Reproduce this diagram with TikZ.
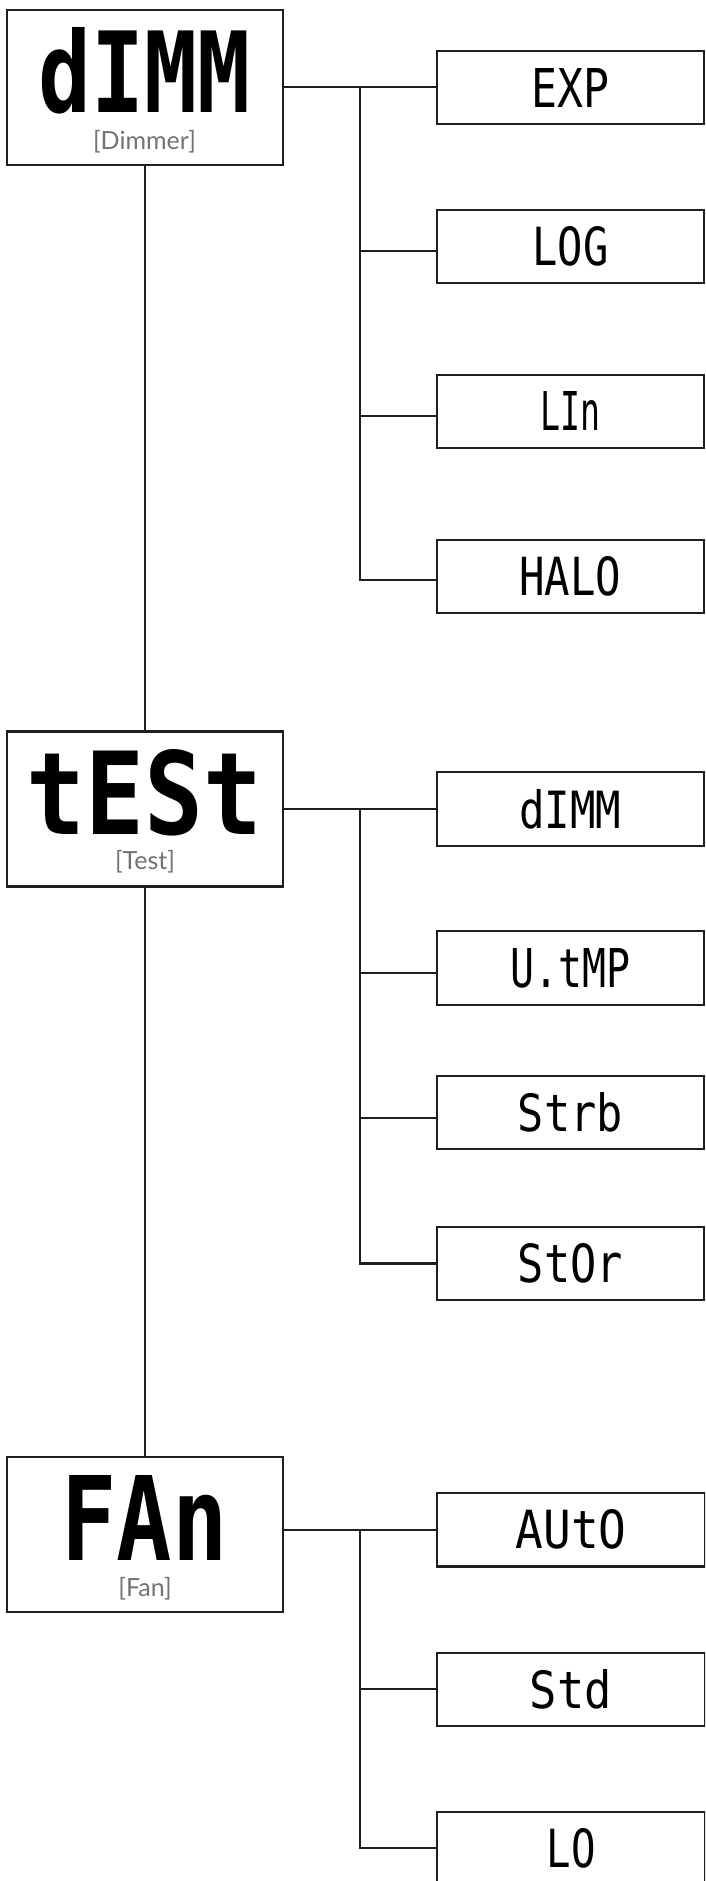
\documentclass[tikz,border=0pt]{standalone}
\usepackage{fontspec}
\usepackage{graphicx}
\newfontfamily\lcdfont{DejaVu Sans Mono}
\newfontfamily\lblfont{Lato}
\newcommand\lcdtxt[3]{\resizebox{#1pt}{#2pt}{\lcdfont #3}}
\newcommand\lcdbold[3]{\resizebox{#1pt}{#2pt}{\lcdfont\bfseries #3}}
\begin{document}
\begin{tikzpicture}[x=1pt,y=-1pt,
  mainbox/.style={draw=black!88, line width=2.2pt, minimum width=275.4pt, minimum height=155pt, inner sep=0pt},
  childbox/.style={draw=black!88, line width=2.2pt, minimum width=267.3pt, minimum height=73.3pt, inner sep=0pt},
  lcd/.style={inner sep=0pt},
  lbl/.style={inner sep=0pt, text=black!55, font=\lblfont\fontsize{25}{25}\selectfont},
  wire/.style={draw=black!88, line width=2.2pt}]
\path[use as bounding box] (0,0) rectangle (705,1881);
\clip (0,0) rectangle (705,1881);
% main boxes
\node[mainbox] (dimm) at (145,87.2) {};
\node[mainbox] (test) at (145,808.9) {};
\node[mainbox] (fan) at (145,1534.3) {};
\node[lcd] (dimmtxt) at (145,70.5) {\lcdbold{212}{85}{dIMM}};
\node[lbl] (dimmlbl) at (144.5,141.5) {[Dimmer]};
\node[lcd] (testtxt) at (145,792.5) {\lcdbold{236}{85}{tESt}};
\node[lbl] (testlbl) at (145,862) {[Test]};
\node[lcd] (fantxt) at (144.5,1518.4) {\lcdbold{166}{85}{FAn}};
\node[lbl] (fanlbl) at (145,1589) {[Fan]};
% dimmer children
\node[childbox] (exp) at (570.4,87.5) {\lcdtxt{78}{39}{EXP}};
\node[childbox] (log) at (570.4,246.3) {\lcdtxt{76}{39}{LOG}};
\node[childbox] (lin) at (570.4,411.3) {\lcdtxt{60}{39}{LIn}};
\node[childbox] (halo) at (570.4,576.3) {\lcdtxt{102}{39}{HALO}};
% test children
\node[childbox] (tdimm) at (570.4,809) {\lcdtxt{102}{39}{dIMM}};
\node[childbox] (utmp) at (570.4,968) {\lcdtxt{120}{39}{U.tMP}};
\node[childbox] (strb) at (570.4,1112.3) {\lcdtxt{105}{39}{Strb}};
\node[childbox] (stor) at (570.4,1263.5) {\lcdtxt{105}{39}{StOr}};
% fan children
\node[childbox] (auto) at (571,1529.8) {\lcdtxt{111}{39}{AUtO}};
\node[childbox] (std) at (571,1689.3) {\lcdtxt{82}{39}{Std}};
\node[childbox] (lo) at (571,1848.3) {\lcdtxt{49}{39}{LO}};
% trunk
\draw[wire] (dimm.south) -- (test.north);
\draw[wire] (test.south) -- (fan.north);
% dimmer branch
\coordinate (j1) at (360,87.3);
\draw[wire] (dimm.east) -- (dimm.east -| exp.west);
\draw[wire] (j1) |- ([yshift=-4.7pt]log.west);
\draw[wire] (j1) |- ([yshift=-4.7pt]lin.west);
\draw[wire] (j1) |- ([yshift=-3.7pt]halo.west);
% test branch
\coordinate (j2) at (360,809);
\draw[wire] (test.east) -- (test.east -| tdimm.west);
\draw[wire] (j2) |- ([yshift=-4.7pt]utmp.west);
\draw[wire] (j2) |- ([yshift=-5.4pt]strb.west);
\draw[wire] (j2) |- (stor.west);
% fan branch
\coordinate (j3) at (360,1530);
\draw[wire] ([yshift=4.3pt]fan.east) -- ([yshift=4.3pt]fan.east -| auto.west);
\draw[wire] (j3) |- (std.west);
\draw[wire] (j3) |- (lo.west);
\end{tikzpicture}
\end{document}
